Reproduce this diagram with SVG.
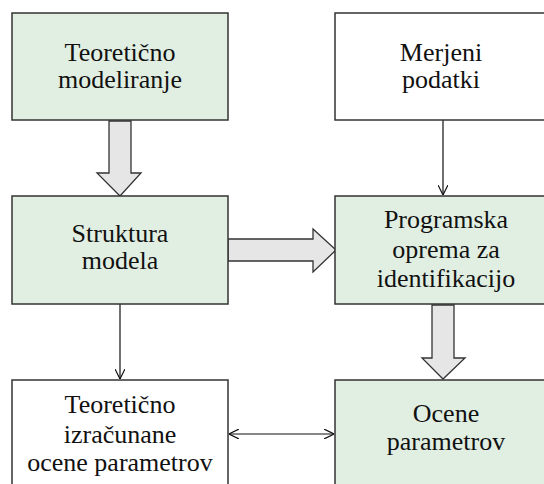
<svg xmlns="http://www.w3.org/2000/svg" width="544" height="484" viewBox="0 0 544 484">
<defs>
<style>
.box{stroke:#333;stroke-width:1.5}
.g{fill:#e1efe3}
.w{fill:#fff}
text{font-family:"Liberation Serif","Times New Roman",serif;font-size:26px;fill:#111;text-anchor:middle}
.blk{fill:#e6e6e6;stroke:#333;stroke-width:1.3;stroke-linejoin:miter}
.ln{stroke:#111;stroke-width:1.2;fill:none}
</style>
<marker id="ah" viewBox="0 0 10 10" refX="10" refY="5" markerWidth="10" markerHeight="10" markerUnits="userSpaceOnUse" orient="auto-start-reverse">
<path d="M0,0 L10,5 L0,10" fill="none" stroke="#111" stroke-width="1.2"/>
</marker>
</defs>
<rect width="544" height="484" fill="#fff"/>
<g id="connectors">
<path class="blk" d="M109,121 L131,121 L131,173 L141,173 L120,196 L97,173 L109,173 Z"/>
<path class="blk" d="M432,305 L454,305 L454,358 L465,358 L443,379 L422,358 L432,358 Z"/>
<path class="blk" d="M228,239 L313,239 L313,229 L336,250 L313,272 L313,261 L228,261 Z"/>
<line class="ln" x1="443" y1="120" x2="443" y2="195" marker-end="url(#ah)"/>
<line class="ln" x1="120" y1="304" x2="120" y2="379" marker-end="url(#ah)"/>
<line class="ln" x1="229" y1="434" x2="334" y2="434" marker-start="url(#ah)" marker-end="url(#ah)"/>
</g>
<g id="n1"><rect class="box g" x="12" y="13" width="216" height="107"/><text x="120" y="61">Teoretično</text><text x="120" y="88">modeliranje</text></g>
<g id="n2"><rect class="box w" x="335" y="13" width="218" height="107"/><text x="441" y="61">Merjeni</text><text x="441" y="88">podatki</text></g>
<g id="n3"><rect class="box g" x="12" y="196" width="216" height="108"/><text x="120" y="242">Struktura</text><text x="120" y="269">modela</text></g>
<g id="n4"><rect class="box g" x="335" y="196" width="218" height="108"/><text x="446" y="228">Programska</text><text x="446" y="258">oprema za</text><text x="446" y="287">identifikacijo</text></g>
<g id="n5"><rect class="box w" x="12" y="380" width="216" height="110"/><text x="120" y="413">Teoretično</text><text x="120" y="443">izračunane</text><text x="120" y="471">ocene parametrov</text></g>
<g id="n6"><rect class="box g" x="335" y="380" width="218" height="110"/><text x="446" y="422">Ocene</text><text x="446" y="450">parametrov</text></g>
</svg>
